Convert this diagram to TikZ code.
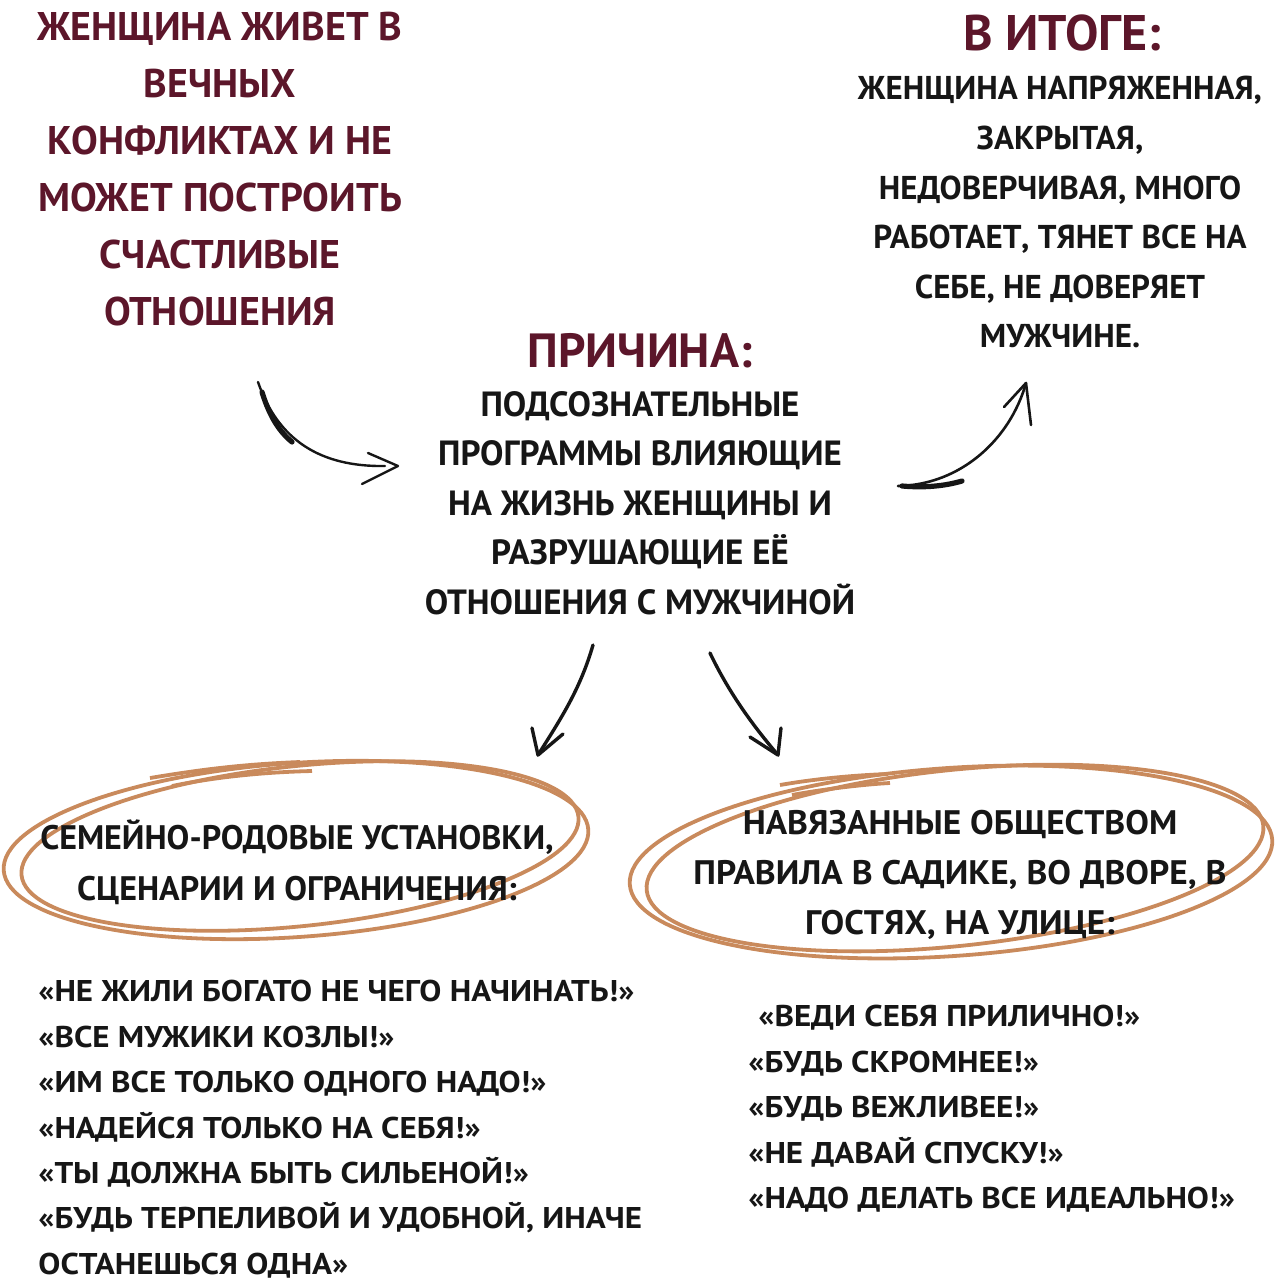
\documentclass[tikz,border=0pt]{standalone}
\usepackage{fontspec}
\setmainfont{PT Sans}
\newfontfamily\widefont{PT Sans}[FakeStretch=1.1]
\newfontfamily\midfont{PT Sans}[FakeStretch=1.04]
\definecolor{wine}{RGB}{92,22,42}
\definecolor{ink}{RGB}{22,22,22}
\definecolor{tan}{RGB}{201,138,92}
\begin{document}
\begin{tikzpicture}[x=0.5pt,y=-0.5pt,
  blk/.style={inner sep=0pt, align=center, text=ink},
  lst/.style={inner sep=0pt, align=left, text=ink, anchor=north west,
    font={\widefont\bfseries\fontsize{15}{22.7}\selectfont}},
  arr/.style={draw=ink, line width=1.7pt, line cap=round, line join=round},
  ring/.style={draw=tan, line width=1.9pt}]
\useasboundingbox (0,0) rectangle (1280,1280);

% top-left statement
\node[blk, text=wine, anchor=north, font={\bfseries\fontsize{20}{28.5}\selectfont}] (prob) at (220,12)
  {ЖЕНЩИНА ЖИВЕТ В\\ВЕЧНЫХ\\КОНФЛИКТАХ И НЕ\\МОЖЕТ ПОСТРОИТЬ\\СЧАСТЛИВЫЕ\\ОТНОШЕНИЯ};

% result
\node[blk, text=wine, anchor=north, font={\bfseries\fontsize{25}{30}\selectfont}] (restitle) at (1062,14) {В ИТОГЕ:};
\node[blk, anchor=north, font={\bfseries\fontsize{16.5}{24.8}\selectfont}] (res) at (1060,76)
  {ЖЕНЩИНА НАПРЯЖЕННАЯ,\\ЗАКРЫТАЯ,\\НЕДОВЕРЧИВАЯ, МНОГО\\РАБОТАЕТ, ТЯНЕТ ВСЕ НА\\СЕБЕ, НЕ ДОВЕРЯЕТ\\МУЖЧИНЕ.};

% cause
\node[blk, text=wine, anchor=north, font={\bfseries\fontsize{24}{30}\selectfont}] (cautitle) at (640,333) {ПРИЧИНА:};
\node[blk, anchor=north, font={\bfseries\fontsize{17.5}{24.75}\selectfont}] (cause) at (640,391)
  {ПОДСОЗНАТЕЛЬНЫЕ\\ПРОГРАММЫ ВЛИЯЮЩИЕ\\НА ЖИЗНЬ ЖЕНЩИНЫ И\\РАЗРУШАЮЩИЕ ЕЁ\\ОТНОШЕНИЯ С МУЖЧИНОЙ};

% rings
\draw[ring, rotate around={4:(296,850)}] (296,850) ellipse [x radius=293, y radius=87];
\draw[ring, rotate around={6:(300,846)}] (300,846) ellipse [x radius=280, y radius=80];
\draw[ring] (172,786) .. controls (220,776) and (270,772) .. (312,771);
\draw[ring] (150,778) .. controls (210,768) and (250,764) .. (300,762);

\draw[ring, rotate around={4:(951,862)}] (951,862) ellipse [x radius=322, y radius=94];
\draw[ring, rotate around={6:(955,858)}] (955,858) ellipse [x radius=310, y radius=88];
\draw[ring] (792,795) .. controls (830,788) and (870,784) .. (890,783);
\draw[ring] (780,785) .. controls (820,778) and (860,775) .. (888,774);

\node[blk, anchor=north, font={\bfseries\fontsize{17}{25.5}\selectfont}] (fam) at (297,819)
  {СЕМЕЙНО-РОДОВЫЕ УСТАНОВКИ,\\СЦЕНАРИИ И ОГРАНИЧЕНИЯ:};
\node[blk, anchor=north, font={\midfont\bfseries\fontsize{17}{25}\selectfont}] (soc) at (960,810)
  {НАВЯЗАННЫЕ ОБЩЕСТВОМ\\ПРАВИЛА В САДИКЕ, ВО ДВОРЕ, В\\ГОСТЯХ, НА УЛИЦЕ:};

% lists
\node[lst] (famlist) at (38,980)
  {«НЕ ЖИЛИ БОГАТО НЕ ЧЕГО НАЧИНАТЬ!»\\«ВСЕ МУЖИКИ КОЗЛЫ!»\\«ИМ ВСЕ ТОЛЬКО ОДНОГО НАДО!»\\«НАДЕЙСЯ ТОЛЬКО НА СЕБЯ!»\\«ТЫ ДОЛЖНА БЫТЬ СИЛЬЕНОЙ!»\\«БУДЬ ТЕРПЕЛИВОЙ И УДОБНОЙ, ИНАЧЕ\\ОСТАНЕШЬСЯ ОДНА»};
\node[lst] (soclist) at (748,1005)
  {\hspace*{5pt}«ВЕДИ СЕБЯ ПРИЛИЧНО!»\\«БУДЬ СКРОМНЕЕ!»\\«БУДЬ ВЕЖЛИВЕЕ!»\\«НЕ ДАВАЙ СПУСКУ!»\\«НАДО ДЕЛАТЬ ВСЕ ИДЕАЛЬНО!»};

% connectors
\coordinate (a1s) at (258,382);
\coordinate (a1e) at (398,466);
\draw[arr, line width=1.2pt] (a1s) .. controls (278,440) and (320,467) .. (385,466);
\draw[arr, line width=2.6pt] (262,392) .. controls (270,418) and (280,432) .. (292,442);
\draw[arr, line width=1.2pt] (368,453) -- (a1e) -- (362,484);

\coordinate (a2s) at (898,486);
\coordinate (a2e) at (1026,383);
\draw[arr, line width=1.3pt] (a2s) .. controls (960,485) and (1010,440) .. (a2e);
\draw[arr, line width=2.6pt] (902,486) .. controls (925,488) and (945,486) .. (962,481);
\draw[arr, line width=1.3pt] (1004,407) -- (a2e) -- (1031,425);

\coordinate (a3s) at (593,645);
\coordinate (a3e) at (538,755);
\draw[arr] (a3s) .. controls (580,690) and (560,720) .. (a3e);
\draw[arr] (532,728) -- (a3e) -- (563,734);

\coordinate (a4s) at (710,653);
\coordinate (a4e) at (778,755);
\draw[arr] (a4s) .. controls (730,695) and (755,728) .. (a4e);
\draw[arr] (750,737) -- (a4e) -- (781,728);
\end{tikzpicture}
\end{document}
